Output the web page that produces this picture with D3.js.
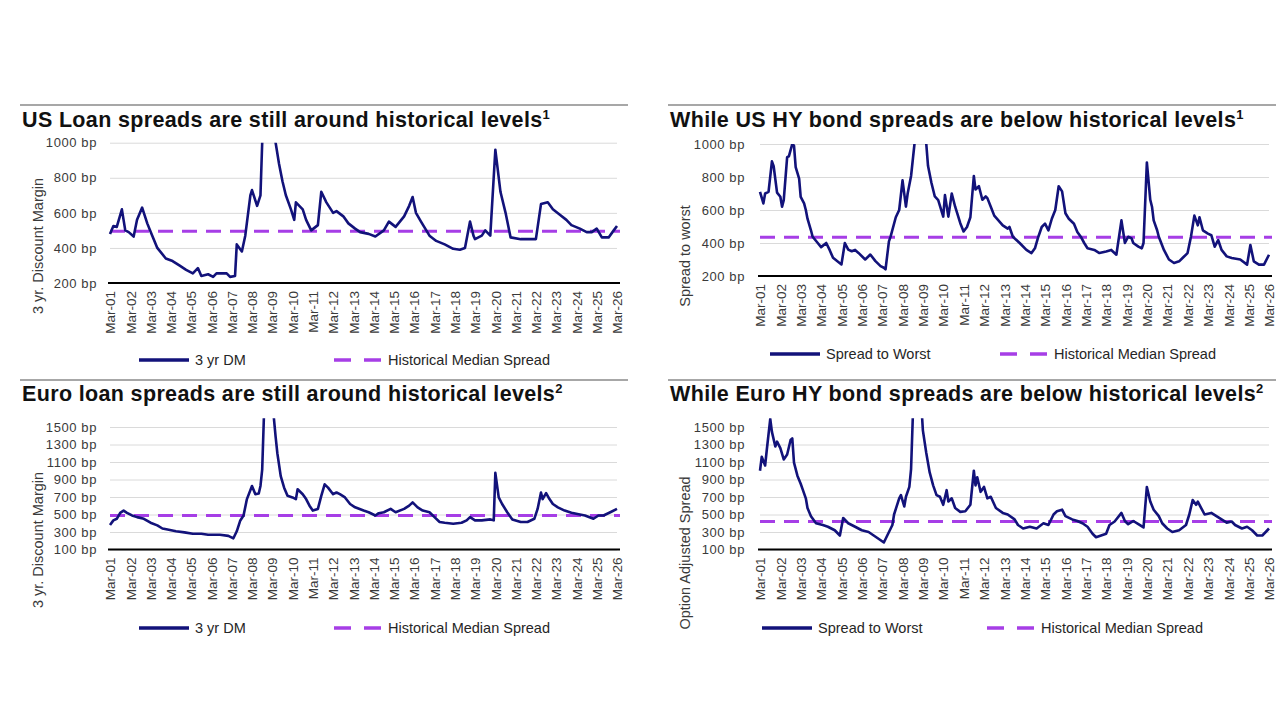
<!DOCTYPE html>
<html>
<head>
<meta charset="utf-8">
<script src="https://cdn.jsdelivr.net/npm/d3@7"></script>
<style>
  body { margin: 0; background: #fff; }
  svg { display: block; font-family: "Liberation Sans", Arial, sans-serif; }
</style>
</head>
<body>
<svg id="chart" width="1280" height="720"></svg>
<script>
// ---- data ----
const usLoanDates = [
  "2001-03","2001-05","2001-07","2001-10","2001-12",
  "2002-02","2002-05","2002-07","2002-10",
  "2003-01","2003-04","2003-07","2003-12",
  "2004-04","2004-08","2004-12",
  "2005-04","2005-07","2005-09",
  "2006-01","2006-04","2006-06","2006-12",
  "2007-02","2007-05","2007-06","2007-09","2007-11",
  "2008-02","2008-03","2008-06","2008-08","2008-09","2008-12",
  "2009-03","2009-05","2009-07","2009-09","2009-11",
  "2010-02","2010-04","2010-05","2010-09","2010-11",
  "2011-02","2011-06","2011-08","2011-11",
  "2012-03","2012-05","2012-09","2012-12",
  "2013-04","2013-07","2013-12",
  "2014-04","2014-09","2014-12",
  "2015-04","2015-09","2015-12",
  "2016-02","2016-04","2016-07","2016-12",
  "2017-04","2017-09",
  "2018-02","2018-06","2018-09","2018-12",
  "2019-02","2019-03","2019-07","2019-09","2019-12",
  "2020-03","2020-06","2020-09","2020-12",
  "2021-06","2021-10",
  "2022-03","2022-06","2022-10",
  "2023-01","2023-05","2023-09","2023-12",
  "2024-05","2024-09","2024-12",
  "2025-03","2025-06","2025-10",
  "2026-01","2026-03"
];
const usLoanDm = [
  480,525,520,620,500,
  490,465,560,630,
  540,470,400,340,
  325,300,275,
  255,285,240,
  250,235,255,255,
  235,240,420,380,470,
  700,730,640,700,1000,1250,
  1150,1000,880,780,700,
  620,560,660,620,560,
  500,530,720,660,
  600,610,580,540,
  510,490,480,
  465,500,550,
  520,580,640,
  690,600,550,470,
  440,420,
  395,390,400,550,
  470,450,470,500,470,
  960,720,600,460,
  450,450,
  450,650,660,
  620,590,560,530,
  510,490,490,
  510,460,460,
  500,525
];

const usHyDates = [
  "2001-03","2001-05","2001-06","2001-08","2001-10","2001-11",
  "2002-01","2002-03","2002-04","2002-05","2002-07","2002-08","2002-10","2002-11","2002-12",
  "2003-02","2003-03","2003-05","2003-06","2003-07","2003-09","2003-10",
  "2004-01","2004-03","2004-06","2004-08","2004-10",
  "2005-03","2005-05","2005-07","2005-09","2005-11",
  "2006-01","2006-05","2006-08","2006-11",
  "2007-02","2007-04","2007-05","2007-07","2007-08","2007-11",
  "2008-01","2008-03","2008-05","2008-06","2008-08","2008-10","2008-12",
  "2009-03","2009-05","2009-06","2009-08","2009-10","2009-12",
  "2010-03","2010-04","2010-06","2010-08","2010-10",
  "2011-01","2011-03","2011-05","2011-07","2011-09","2011-10","2011-12",
  "2012-02","2012-04","2012-05","2012-07","2012-09",
  "2013-02","2013-05","2013-06","2013-08","2013-12",
  "2014-04","2014-07","2014-09","2014-11",
  "2015-01","2015-03","2015-05","2015-07","2015-09","2015-11",
  "2016-01","2016-03","2016-05","2016-08","2016-10","2016-12",
  "2017-02","2017-04","2017-08","2017-11",
  "2018-03","2018-06","2018-09","2018-12",
  "2019-02","2019-04","2019-06","2019-07","2019-10","2019-12",
  "2020-01","2020-03","2020-05","2020-06","2020-07","2020-09","2020-10",
  "2021-01","2021-04","2021-07","2021-10","2021-12",
  "2022-03","2022-05","2022-07","2022-08","2022-09","2022-10","2022-12",
  "2023-03","2023-05","2023-07","2023-09","2023-11",
  "2024-02","2024-05","2024-10",
  "2025-02","2025-04","2025-06","2025-09","2025-12",
  "2026-03"
];
const usHyStw = [
  710,640,700,710,895,865,
  705,680,620,660,920,925,1000,990,860,
  790,680,640,600,547,477,438,
  400,375,400,358,310,
  270,400,360,350,358,
  340,300,330,290,
  260,250,240,410,440,556,
  600,780,620,700,806,1000,1900,
  1600,1000,868,765,682,660,
  560,690,560,700,620,
  520,470,497,556,806,724,744,
  662,682,672,620,566,
  507,487,497,438,400,
  358,339,368,438,
  497,517,477,547,600,744,
  713,580,547,517,467,438,
  400,368,358,339,
  349,358,329,537,
  400,438,428,400,378,368,
  400,888,662,620,537,477,438,
  358,300,279,289,309,
  339,438,566,537,507,556,477,
  457,447,378,418,358,
  319,309,300,
  269,388,289,269,269,
  329
];

const euLoanDates = [
  "2001-03","2001-05","2001-07","2001-09","2001-11",
  "2002-01","2002-04","2002-07","2002-11",
  "2003-03","2003-07","2003-10",
  "2004-01","2004-06","2004-11",
  "2005-04","2005-09",
  "2006-01","2006-08",
  "2007-01","2007-04","2007-06","2007-08","2007-10","2007-12",
  "2008-03","2008-05","2008-07","2008-08","2008-09","2008-10","2008-12",
  "2009-03","2009-05","2009-06","2009-08","2009-10","2009-12",
  "2010-03","2010-05","2010-06","2010-09","2010-11",
  "2011-01","2011-03","2011-06","2011-08","2011-10","2011-12",
  "2012-03","2012-05","2012-07","2012-10",
  "2013-01","2013-04","2013-09","2013-12",
  "2014-04","2014-06","2014-09",
  "2015-01","2015-04","2015-09","2015-12",
  "2016-02","2016-05","2016-08","2016-12",
  "2017-03","2017-06","2017-09",
  "2018-02","2018-07","2018-10","2018-12",
  "2019-03","2019-07","2019-12",
  "2020-02","2020-03","2020-05","2020-07","2020-10",
  "2021-01","2021-06","2021-10",
  "2022-02","2022-04","2022-06","2022-07","2022-09","2022-11",
  "2023-01","2023-04","2023-08","2023-12",
  "2024-05","2024-08",
  "2025-01","2025-04","2025-07","2025-11",
  "2026-03"
];
const euLoanDm = [
  380,433,451,519,545,
  519,489,470,451,
  406,376,340,
  328,308,296,
  280,280,
  268,268,
  256,228,308,428,489,676,
  826,732,740,826,1013,1600,2000,
  1800,1388,1200,938,807,713,
  695,676,788,732,676,
  601,545,564,713,845,807,
  732,751,732,695,
  620,582,545,526,
  489,515,526,
  564,526,564,601,
  638,582,545,526,
  470,414,406,
  395,406,433,470,
  433,433,444,
  433,976,695,620,526,
  444,414,414,
  451,564,751,676,744,676,
  620,582,545,519,
  500,489,
  451,489,489,526,
  564
];

const euHyDates = [
  "2001-03","2001-04","2001-06","2001-07","2001-09","2001-10","2001-12",
  "2002-01","2002-03","2002-05","2002-07","2002-09","2002-10","2002-11",
  "2003-01","2003-03","2003-04","2003-06","2003-07","2003-09","2003-12",
  "2004-04","2004-07","2004-11",
  "2005-02","2005-04","2005-07","2005-11",
  "2006-03","2006-07","2006-10",
  "2007-01","2007-04","2007-06","2007-09","2007-10",
  "2008-01","2008-02","2008-04","2008-05","2008-07","2008-08","2008-09","2008-12",
  "2009-03","2009-05","2009-07","2009-09","2009-11",
  "2010-01","2010-03","2010-05","2010-06","2010-08","2010-10",
  "2011-01","2011-04","2011-07","2011-09","2011-10","2011-11",
  "2012-01","2012-03","2012-05","2012-07","2012-10",
  "2013-02","2013-05","2013-09","2013-11",
  "2014-02","2014-06","2014-10",
  "2015-02","2015-05","2015-08","2015-10",
  "2016-01","2016-03","2016-07","2016-10",
  "2017-01","2017-04","2017-07","2017-09","2017-12",
  "2018-03","2018-05","2018-08","2018-12",
  "2019-02","2019-04","2019-07","2019-10",
  "2020-01","2020-03","2020-05","2020-07","2020-10","2020-12",
  "2021-03","2021-06","2021-10",
  "2022-02","2022-04","2022-06","2022-08","2022-09","2022-11",
  "2023-01","2023-05","2023-08","2023-11",
  "2024-02","2024-05","2024-07","2024-11",
  "2025-02","2025-05","2025-08","2025-11",
  "2026-01","2026-03"
];
const euHyOas = [
  1000,1159,1060,1240,1592,1444,1277,
  1333,1259,1129,1185,1351,1370,1092,
  944,852,796,685,574,480,400,
  380,360,320,
  260,460,400,360,
  320,300,260,
  220,180,260,380,500,
  685,722,592,703,815,1018,1610,2400,
  1462,1203,981,833,722,
  703,611,778,648,685,574,
  530,537,611,1000,833,926,
  759,815,685,703,574,
  518,500,444,380,
  340,360,340,
  400,380,500,537,
  555,481,444,426,
  400,360,280,240,260,
  280,380,420,518,
  426,389,426,389,
  352,815,648,555,481,400,
  340,300,320,
  380,500,666,611,648,574,
  500,518,481,444,
  407,420,380,340,
  360,320,260,260,
  300,340
];

// historical medians (bp)
const usLoanMedian = 495;
const usHyMedian = 435;
const euLoanMedian = 490;
const euHyMedian = 420;

// axis ticks
const usTicks = [200, 400, 600, 800, 1000];
const euTicks = [100, 300, 500, 700, 900, 1100, 1300, 1500];
const tickYears = d3.range(2001, 2027);

// ---- drawing ----
const NAVY = "#12127a";
const PURPLE = "#a63ee6";
const parseMonth = d3.timeParse("%Y-%m");
const svg = d3.select("#chart");

const panels = [
  { title: "US Loan spreads are still around historical levels", sup: "1",
    dates: usLoanDates, values: usLoanDm, median: usLoanMedian, ticks: usTicks,
    yDomain: [200, 1000], yRange: [283, 142.7],
    ruleX: [20, 628], ruleY: 105, titleX: 22, titleY: 127,
    xRange: [110, 617], tickRight: 97,
    yTitle: "3 yr. Discount Margin", yTitleX: 38, yTitleY: 246,
    seriesName: "3 yr DM", legendY: 360, legSolid: 139, legDash: 334 },
  { title: "While US HY bond spreads are below historical levels", sup: "1",
    dates: usHyDates, values: usHyStw, median: usHyMedian, ticks: usTicks,
    yDomain: [200, 1000], yRange: [276, 144],
    ruleX: [668, 1276], ruleY: 105, titleX: 670, titleY: 127,
    xRange: [760, 1269], tickRight: 745,
    yTitle: "Spread to worst", yTitleX: 685, yTitleY: 256,
    seriesName: "Spread to Worst", legendY: 354, legSolid: 770, legDash: 1000 },
  { title: "Euro loan spreads are still around historical levels", sup: "2",
    dates: euLoanDates, values: euLoanDm, median: euLoanMedian, ticks: euTicks,
    yDomain: [100, 1600], yRange: [549.5, 418.25],
    ruleX: [20, 628], ruleY: 380, titleX: 22, titleY: 401,
    xRange: [110, 617], tickRight: 97,
    yTitle: "3 yr. Discount Margin", yTitleX: 38, yTitleY: 540,
    seriesName: "3 yr DM", legendY: 628, legSolid: 139, legDash: 334 },
  { title: "While Euro HY bond spreads are below historical levels", sup: "2",
    dates: euHyDates, values: euHyOas, median: euHyMedian, ticks: euTicks,
    yDomain: [100, 1600], yRange: [549.5, 418.25],
    ruleX: [668, 1276], ruleY: 380, titleX: 670, titleY: 401,
    xRange: [760, 1269], tickRight: 745,
    yTitle: "Option Adjusted Spread", yTitleX: 685, yTitleY: 553,
    seriesName: "Spread to Worst", legendY: 628, legSolid: 762, legDash: 987 }
];

panels.forEach((p, i) => {
  const g = svg.append("g");
  const x = d3.scaleTime()
    .domain([new Date(2001, 2, 1), new Date(2026, 2, 1)])
    .range(p.xRange);
  const y = d3.scaleLinear().domain(p.yDomain).range(p.yRange);
  const plotTop = y(p.yDomain[1]);
  const plotBottom = y(p.yDomain[0]);

  // top rule + title
  g.append("line")
    .attr("x1", p.ruleX[0]).attr("x2", p.ruleX[1])
    .attr("y1", p.ruleY).attr("y2", p.ruleY)
    .attr("stroke", "#8a8a8a").attr("stroke-width", 1.5);
  const t = g.append("text")
    .attr("x", p.titleX).attr("y", p.titleY)
    .attr("font-size", 21.5).attr("font-weight", "bold").attr("fill", "#111")
    .attr("letter-spacing", 0.35)
    .text(p.title);
  t.append("tspan").attr("font-size", 13).attr("dy", -8).text(p.sup);

  // gridlines + y labels
  const gy = g.append("g")
    .attr("transform", `translate(${p.xRange[0]},0)`)
    .call(d3.axisLeft(y).tickValues(p.ticks)
      .tickFormat(d => d + " bp")
      .tickSize(-(p.xRange[1] - p.xRange[0])).tickPadding(p.xRange[0] - p.tickRight));
  gy.select(".domain").remove();
  gy.attr("font-size", null).attr("font-family", null);
  gy.selectAll(".tick line").attr("stroke", "#dadada").attr("stroke-width", 1);
  gy.selectAll(".tick text").attr("font-size", 13).attr("fill", "#3a3a3a")
    .attr("letter-spacing", 0.6);

  // x axis labels
  const gx = g.append("g")
    .attr("transform", `translate(0,${plotBottom})`)
    .call(d3.axisBottom(x)
      .tickValues(tickYears.map(yr => new Date(yr, 2, 1)))
      .tickFormat(d3.timeFormat("%b-%y")).tickSize(0));
  gx.select(".domain").remove();
  gx.attr("font-size", null).attr("font-family", null);
  gx.selectAll(".tick text")
    .attr("transform", "rotate(-90)")
    .attr("x", -8).attr("y", 0).attr("dy", "0.35em")
    .attr("text-anchor", "end")
    .attr("font-size", 13.5).attr("fill", "#3a3a3a");

  // y axis title
  g.append("text")
    .attr("transform", `translate(${p.yTitleX},${p.yTitleY}) rotate(-90)`)
    .attr("text-anchor", "middle").attr("dy", "0.35em")
    .attr("font-size", 14.5).attr("fill", "#3a3a3a")
    .text(p.yTitle);

  // clip to plot area
  const clipId = "clip" + i;
  g.append("clipPath").attr("id", clipId)
    .append("rect")
    .attr("x", p.xRange[0] - 2).attr("y", plotTop)
    .attr("width", p.xRange[1] - p.xRange[0] + 6)
    .attr("height", plotBottom - plotTop);

  // median dashed line
  g.append("line")
    .attr("x1", p.xRange[0]).attr("x2", p.xRange[1] + 3)
    .attr("y1", y(p.median)).attr("y2", y(p.median))
    .attr("stroke", PURPLE).attr("stroke-width", 3)
    .attr("stroke-dasharray", "15,9");

  // series line
  const pts = p.dates.map((d, k) => ({ date: parseMonth(d), v: p.values[k] }));
  g.append("path")
    .datum(pts)
    .attr("clip-path", `url(#${clipId})`)
    .attr("fill", "none").attr("stroke", NAVY)
    .attr("stroke-width", 2.6).attr("stroke-linejoin", "round")
    .attr("d", d3.line().x(d => x(d.date)).y(d => y(d.v)));

  // baseline
  g.append("line")
    .attr("x1", p.xRange[0] - 2).attr("x2", p.xRange[1] + 3)
    .attr("y1", plotBottom).attr("y2", plotBottom)
    .attr("stroke", "#000").attr("stroke-width", 2);

  // legend
  const lg = g.append("g").attr("transform", `translate(0,${p.legendY})`);
  lg.append("line").attr("x1", p.legSolid).attr("x2", p.legSolid + 50)
    .attr("stroke", NAVY).attr("stroke-width", 3.5);
  lg.append("text").attr("x", p.legSolid + 56).attr("dy", "0.35em")
    .attr("font-size", 14.5).attr("fill", "#262626").text(p.seriesName);
  lg.append("line").attr("x1", p.legDash).attr("x2", p.legDash + 48)
    .attr("stroke", PURPLE).attr("stroke-width", 3.5)
    .attr("stroke-dasharray", "17,13");
  lg.append("text").attr("x", p.legDash + 54).attr("dy", "0.35em")
    .attr("font-size", 14.5).attr("fill", "#262626").text("Historical Median Spread");
});
</script>
</body>
</html>
